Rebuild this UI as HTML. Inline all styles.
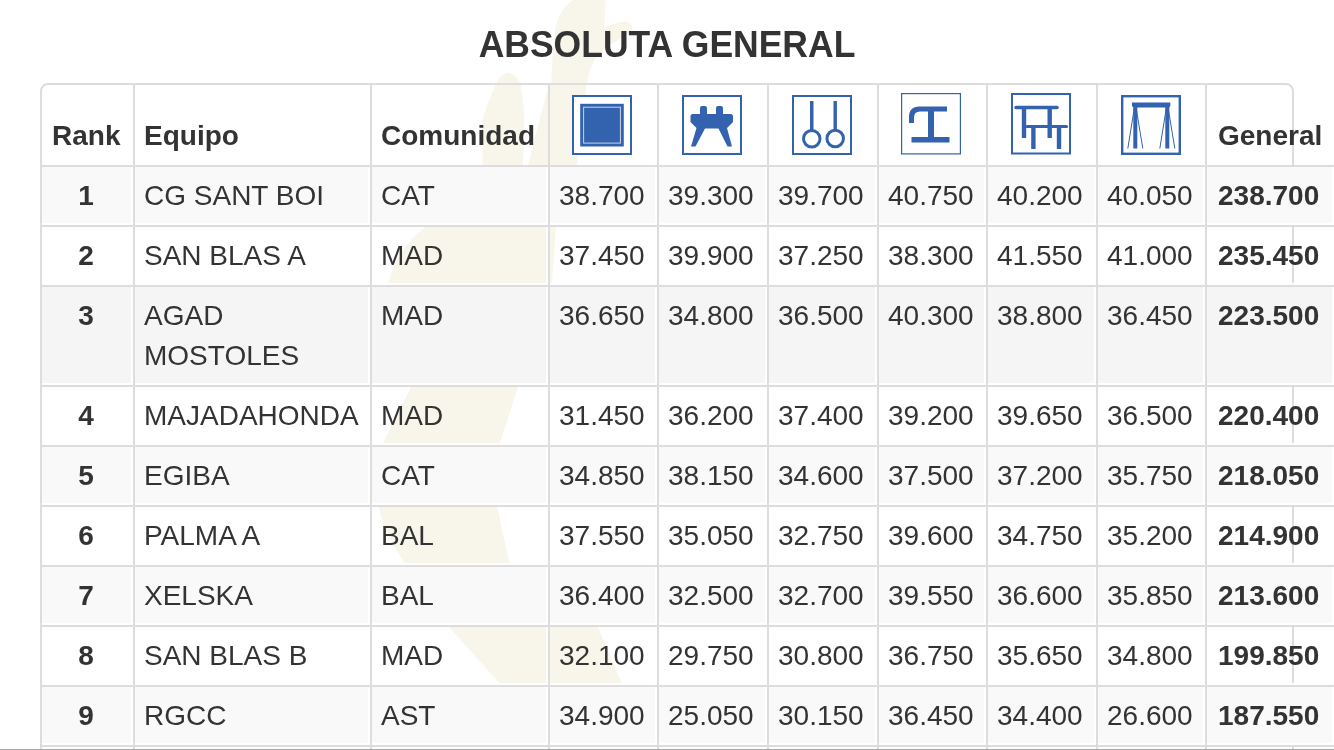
<!DOCTYPE html>
<html lang="es">
<head>
<meta charset="utf-8">
<title>ABSOLUTA GENERAL</title>
<style>
html,body{margin:0;padding:0;background:#fff;}
body{width:1334px;height:750px;overflow:hidden;position:relative;font-family:"Liberation Sans",Arial,Helvetica,sans-serif;color:#333;font-size:28px;line-height:40px;}
.wm{position:absolute;left:0;top:0;width:1334px;height:750px;}
h4{position:absolute;left:0;top:25px;width:1334px;margin:0;text-align:center;font-size:36px;transform:scaleX(0.986);line-height:40px;font-weight:bold;color:#333;}
.wrap{position:absolute;left:40px;top:83px;width:1250px;height:700px;border:2px solid #ddd;border-radius:8px;}
table{position:absolute;left:42px;top:85px;border-collapse:separate;border-spacing:0;table-layout:fixed;width:1292px;}
th,td{box-sizing:border-box;border-right:2px solid #ddd;border-bottom:2px solid #ddd;padding:8.5px 10px 9.5px 9px;text-align:left;white-space:nowrap;vertical-align:top;}
th{vertical-align:bottom;padding:11px 10px 9px 9px;font-weight:bold;height:82px;}
th:last-child,td:last-child{border-right:0;}
td{box-shadow:inset -2px -2px 0 #fff;}
tr.s td{background:#f9f9f9;}
tr.h td{background:#f5f5f5;}
td.r{text-align:center;font-weight:bold;padding-left:9px;padding-right:12px;}
th:first-child{padding-left:10px;}
td.g,th:last-child{padding-left:11px;}
td.g{font-weight:bold;}
td.w{white-space:normal;}
th.i{padding:10px 0 10px 0;}
th.i svg{display:block;}
.foot{position:absolute;left:0;top:749px;width:1334px;height:1px;background:#a8a8a8;}
</style>
</head>
<body>
<svg class="wm" width="1334" height="750" viewBox="0 0 1334 750">
<g fill="#f8f6eb">
<path d="M573,0 L606,0 L604,28 C612,24 620,21 627,22 C634,24 634,30 628,34 L608,46 L596,56 L590,70 L587,84 L584,100 L579,140 L577,165 L570,200 L556,227 L552,283 L545,330 L518,387 L500,443 L495,480 L497,507 L509.5,563 L598,627 L621.5,683 L650,725 L530,725 L499,683 L449,627 C392,548 383,530 379,507 L377,475 L383,443 L411,387 L395,335 L388,283 Q398,248 425,227 L450,212 L528,165 L546,95 L551,84 L553,50 L555,30 C557,18 562,8 573,0 Z"/>
<path d="M508,72.5 C514,73 519,79 520.6,85 C523,98 524.3,110 524.3,120 L523,165 L522,200 L482.5,200 L482.5,165 L482.5,120 C485,110 490,98 495.7,85 C498,79 503,73 508,72.5 Z"/>
</g>
</svg>
<h4>ABSOLUTA GENERAL</h4>
<div class="wrap"></div>
<table>
<colgroup>
<col style="width:93px"><col style="width:237px"><col style="width:178px"><col style="width:109px"><col style="width:110px"><col style="width:110px"><col style="width:109px"><col style="width:110px"><col style="width:109px"><col style="width:127px">
</colgroup>
<thead>
<tr>
<th>Rank</th><th>Equipo</th><th>Comunidad</th>
<th class="i"><svg style="position:absolute;left:530px;top:10px" width="60" height="60" viewBox="0 0 60 60"><rect x="1" y="1" width="58" height="58" fill="#fff" stroke="#3363ae" stroke-width="2"/><rect x="8.2" y="8.8" width="43.6" height="42.7" fill="#3363ae"/><rect x="11.6" y="12.2" width="36.8" height="35.9" fill="none" stroke="#c8d4ea" stroke-width="1"/></svg></th><th class="i"><svg style="position:absolute;left:640px;top:10px" width="60" height="60" viewBox="0 0 60 60"><rect x="1" y="1" width="58" height="58" fill="#fff" stroke="#3363ae" stroke-width="2"/><path fill="#3363ae" d="M18,19 L18,13 Q18,11 20,11 L23,11 Q25,11 25,13 L25,19 L34,19 L34,13 Q34,11 36,11 L39,11 Q41,11 41,13 L41,19 L49.5,19 L51,20.5 L51,27 L45,33 L50,51.5 L45.5,51.5 L36.5,33.5 L23,33.5 L13.5,51.5 L9,51.5 L14.5,33 L8.5,27 L8.5,20.5 L10,19 Z"/></svg></th><th class="i"><svg style="position:absolute;left:750px;top:10px" width="60" height="60" viewBox="0 0 60 60"><rect x="1" y="1" width="58" height="58" fill="#fff" stroke="#3363ae" stroke-width="2"/><rect x="18" y="6" width="3.5" height="30" fill="#3363ae"/><rect x="41.5" y="6" width="3.4" height="30" fill="#3363ae"/><circle cx="19.75" cy="43.75" r="8.25" fill="none" stroke="#3363ae" stroke-width="3"/><circle cx="43.2" cy="43.5" r="8.25" fill="none" stroke="#3363ae" stroke-width="3"/></svg></th><th class="i"><svg style="position:absolute;left:859px;top:8px" width="60" height="62" viewBox="0 0 60 62"><rect x="0.6" y="0.6" width="58.8" height="60.3" fill="#fff" stroke="#3363ae" stroke-width="1.2"/><path fill="#3363ae" d="M8,30 L8,24 Q8,13.5 18.5,13.5 L46,13.5 L46,18.5 L33,18.5 L33,44 L48.5,44 L48.5,49.5 L10.5,49.5 L10.5,44 L27,44 L27,18.5 L19,18.5 Q13,18.5 13,24.5 L13,30 Z"/></svg></th><th class="i"><svg style="position:absolute;left:969px;top:8px" width="60" height="62" viewBox="0 0 60 62"><rect x="1" y="1" width="58" height="59.5" fill="#fff" stroke="#3363ae" stroke-width="2"/><g fill="#3363ae"><rect x="3.3" y="12.8" width="44.5" height="3.5" rx="1.7"/><rect x="10.8" y="15" width="4.4" height="30"/><rect x="36.5" y="15" width="4.4" height="30"/><rect x="14.5" y="32" width="42.5" height="3" rx="1.5"/><rect x="20.2" y="34" width="4.4" height="22"/><rect x="45.8" y="34" width="4.4" height="22"/></g></svg></th><th class="i"><svg style="position:absolute;left:1079px;top:10px" width="60" height="60" viewBox="0 0 60 60"><rect x="1.2" y="1.2" width="57.6" height="57.6" fill="#fff" stroke="#3363ae" stroke-width="2.4"/><path fill="#3363ae" d="M11,7.5 L49.3,7.5 L49.3,11 L48.3,12.5 L48.3,53.5 L44.3,53.5 L44.3,12.5 L16.3,12.5 L16.3,53.5 L12.3,53.5 L12.3,12.5 L11,11 Z"/><g stroke="#3363ae" stroke-width="1" fill="none"><path d="M13.5,12 L6.8,53.5 M15,12 L21.8,53.5 M45.5,12 L38.8,53.5 M47,12 L53.8,53.5"/></g></svg></th>
<th>General</th>
</tr>
</thead>
<tbody>
<tr class="s"><td class="r">1</td><td>CG SANT BOI</td><td>CAT</td><td>38.700</td><td>39.300</td><td>39.700</td><td>40.750</td><td>40.200</td><td>40.050</td><td class="g">238.700</td></tr>
<tr><td class="r">2</td><td>SAN BLAS A</td><td>MAD</td><td>37.450</td><td>39.900</td><td>37.250</td><td>38.300</td><td>41.550</td><td>41.000</td><td class="g">235.450</td></tr>
<tr class="h"><td class="r">3</td><td class="w">AGAD<br>MOSTOLES</td><td>MAD</td><td>36.650</td><td>34.800</td><td>36.500</td><td>40.300</td><td>38.800</td><td>36.450</td><td class="g">223.500</td></tr>
<tr><td class="r">4</td><td>MAJADAHONDA</td><td>MAD</td><td>31.450</td><td>36.200</td><td>37.400</td><td>39.200</td><td>39.650</td><td>36.500</td><td class="g">220.400</td></tr>
<tr class="s"><td class="r">5</td><td>EGIBA</td><td>CAT</td><td>34.850</td><td>38.150</td><td>34.600</td><td>37.500</td><td>37.200</td><td>35.750</td><td class="g">218.050</td></tr>
<tr><td class="r">6</td><td>PALMA A</td><td>BAL</td><td>37.550</td><td>35.050</td><td>32.750</td><td>39.600</td><td>34.750</td><td>35.200</td><td class="g">214.900</td></tr>
<tr class="s"><td class="r">7</td><td>XELSKA</td><td>BAL</td><td>36.400</td><td>32.500</td><td>32.700</td><td>39.550</td><td>36.600</td><td>35.850</td><td class="g">213.600</td></tr>
<tr><td class="r">8</td><td>SAN BLAS B</td><td>MAD</td><td>32.100</td><td>29.750</td><td>30.800</td><td>36.750</td><td>35.650</td><td>34.800</td><td class="g">199.850</td></tr>
<tr class="s"><td class="r">9</td><td>RGCC</td><td>AST</td><td>34.900</td><td>25.050</td><td>30.150</td><td>36.450</td><td>34.400</td><td>26.600</td><td class="g">187.550</td></tr>
<tr><td class="r">10</td><td>&nbsp;</td><td>&nbsp;</td><td></td><td></td><td></td><td></td><td></td><td></td><td class="g"></td></tr>
</tbody>
</table>
<div class="foot"></div>
</body>
</html>
